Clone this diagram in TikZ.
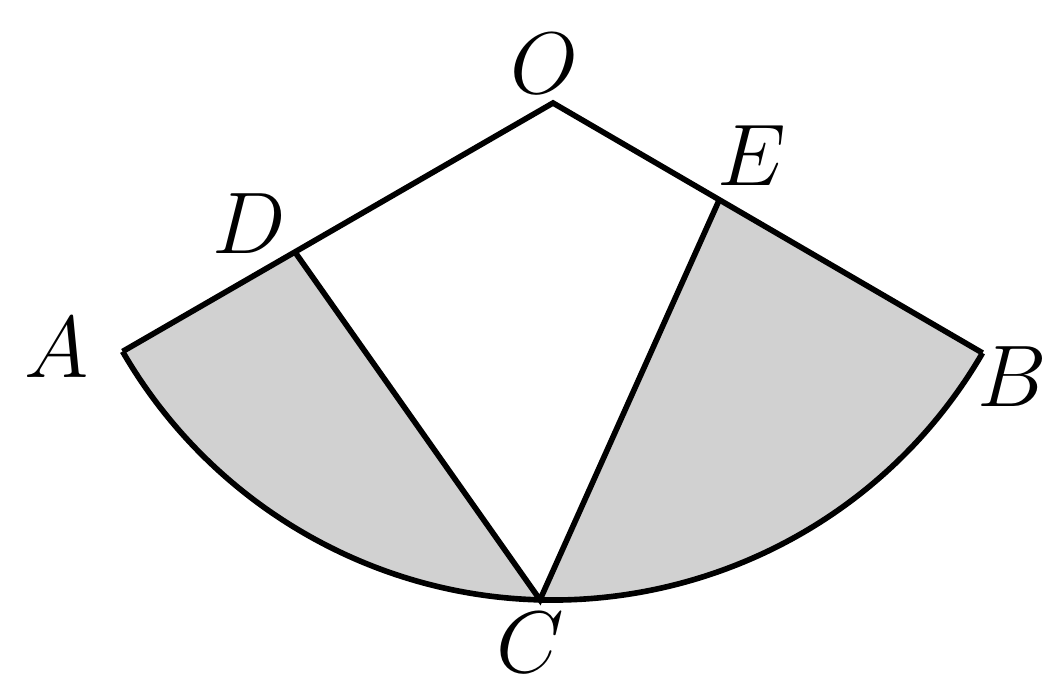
\documentclass[tikz,border=0pt]{standalone}
\begin{document}
\begin{tikzpicture}[x=0.01cm,y=0.01cm,
  edge/.style={line width=1.6pt,line join=miter},
  shade/.style={fill=black!18},
  lab/.style={inner sep=0pt,font=\fontsize{27}{32}\selectfont}]
\useasboundingbox (0,0) rectangle (1046,685);
\coordinate (O) at (553,582);
\path (O) ++(210:497) coordinate (A);
\path (O) ++(329.8:497) coordinate (B);
\path (O) ++(268.5:497) coordinate (C);
\path (O) ++(210:298) coordinate (D);
\path (O) ++(329.8:192.4) coordinate (E);
% shaded parts
\fill[shade] (A) -- (D) -- (C) arc[start angle=268.5,end angle=210,radius=497] -- cycle;
\fill[shade] (E) -- (B) arc[start angle=329.8,end angle=268.5,radius=497] -- (C) -- cycle;
% outline
\draw[edge] (A) -- (O) -- (B);
\draw[edge] (B) arc[start angle=329.8,end angle=210,radius=497];
\draw[edge] (D) -- (C) -- (E);
% labels
\node[lab] (lO) at (544,621) {$O$};
\node[lab] (lE) at (752,529) {$E$};
\node[lab] (lD) at (249,461) {$D$};
\node[lab] (lA) at (57,337) {$A$};
\node[lab] (lB) at (1012,308) {$B$};
\node[lab] (lC) at (530,42) {$C$};
\end{tikzpicture}
\end{document}
